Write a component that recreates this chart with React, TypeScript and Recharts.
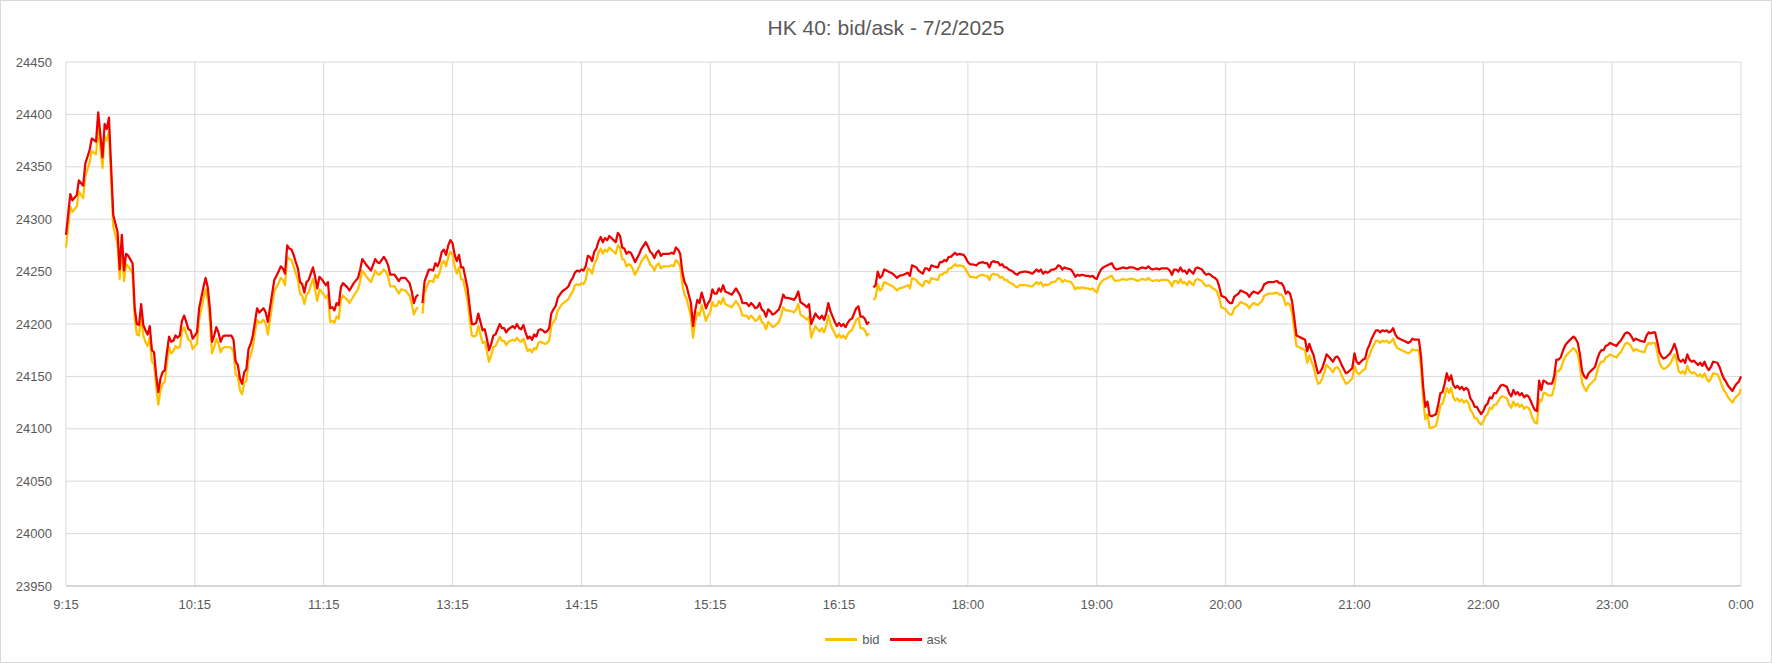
import { LineChart, Line, XAxis, YAxis, CartesianGrid, Legend } from 'recharts'

const FONT = "'Liberation Sans', Arial, sans-serif"
const TEXT = '#595959'
const GRID = '#D9D9D9'
const BID = '#FFC000'
const ASK = '#EE0000'

const title = 'HK 40: bid/ask - 7/2/2025'
const seriesNames = ['bid', 'ask']
const tickTimes = ['9:15', '10:15', '11:15', '13:15', '14:15', '15:15', '16:15', '18:00', '19:00', '20:00', '21:00', '22:00', '23:00', '0:00']
const priceTicks = [23950, 24000, 24050, 24100, 24150, 24200, 24250, 24300, 24350, 24400, 24450]
// no quotes during the breaks -> the line is cut there
const breakTimes = ['12:00', '16:30']

// morning session
const amTimes = [
  '9:15', '9:17', '9:18', '9:20', '9:21', '9:23', '9:24', '9:26', '9:27', '9:29', '9:30', '9:32', '9:33', '9:34', '9:35', '9:37',
  '9:39', '9:40', '9:41', '9:42', '9:43', '9:44',
  '9:46', '9:47', '9:48', '9:49', '9:50', '9:51', '9:52', '9:53', '9:54', '9:55', '9:56', '9:57', '9:58', '9:59',
  '10:00', '10:01', '10:02', '10:03', '10:04', '10:05', '10:06', '10:07', '10:08', '10:09', '10:10', '10:11', '10:12', '10:13', '10:14', '10:15', '10:16', '10:17',
  '10:19', '10:20', '10:21', '10:22', '10:23', '10:24', '10:25', '10:26', '10:27', '10:28', '10:29',
  '10:31', '10:32', '10:33', '10:34', '10:35', '10:36', '10:37', '10:38', '10:39', '10:40', '10:41', '10:42', '10:43', '10:44', '10:45', '10:46', '10:47', '10:48', '10:49',
  '10:51', '10:52', '10:53', '10:54', '10:55', '10:56', '10:57', '10:58', '10:59', '11:00', '11:01', '11:02', '11:03', '11:04', '11:05', '11:06', '11:07', '11:08',
  '11:09', '11:10', '11:11', '11:12', '11:13', '11:14', '11:15', '11:16', '11:17', '11:18', '11:19', '11:20', '11:21', '11:22', '11:23', '11:24',
  '11:26', '11:27', '11:29', '11:31', '11:32', '11:33', '11:34', '11:35', '11:37', '11:39', '11:40', '11:41', '11:43', '11:44', '11:45', '11:46',
  '11:48', '11:50', '11:51', '11:53', '11:55', '11:56', '11:57', '11:58', '11:59',
]
const amBid = [
  24273, 24312, 24307, 24312, 24326, 24320, 24341, 24354, 24365, 24362, 24388, 24349, 24379, 24375, 24384, 24293,
  24276, 24243, 24274, 24241, 24257, 24255,
  24248, 24205, 24190, 24189, 24207, 24189, 24183, 24179, 24187, 24164, 24162, 24140, 24123, 24137,
  24143, 24145, 24163, 24178, 24172, 24174, 24179, 24177, 24178, 24193, 24197, 24191, 24185, 24184, 24176, 24179, 24181, 24204,
  24224, 24233, 24224, 24204, 24172, 24178, 24186, 24181, 24173, 24177, 24178,
  24178, 24177, 24174, 24152, 24150, 24137, 24133, 24144, 24146, 24166, 24170, 24178, 24192, 24204, 24201, 24202, 24204, 24200, 24190,
  24218, 24231, 24235, 24239, 24244, 24242, 24237, 24264, 24262, 24261, 24255, 24248, 24242, 24229, 24227, 24219, 24228, 24230,
  24237, 24243, 24233, 24222, 24233, 24231, 24228, 24225, 24228, 24202, 24203, 24201, 24207, 24205, 24223, 24227,
  24223, 24220, 24227, 24233, 24241, 24251, 24248, 24245, 24240, 24251, 24248, 24247, 24252, 24250, 24245, 24236,
  24236, 24229, 24233, 24232, 24227, 24219, 24209, 24214, 24216,
]
const amAsk = [
  24285, 24324, 24318, 24323, 24337, 24332, 24353, 24366, 24377, 24374, 24402, 24359, 24391, 24386, 24397, 24304,
  24288, 24252, 24285, 24251, 24267, 24265,
  24258, 24215, 24200, 24199, 24219, 24199, 24194, 24190, 24198, 24175, 24173, 24151, 24135, 24148,
  24154, 24156, 24173, 24188, 24183, 24184, 24189, 24187, 24189, 24203, 24208, 24202, 24195, 24194, 24186, 24189, 24192, 24215,
  24235, 24244, 24235, 24215, 24183, 24189, 24197, 24192, 24183, 24188, 24189,
  24189, 24189, 24185, 24164, 24161, 24148, 24143, 24154, 24157, 24176, 24181, 24189, 24202, 24215, 24211, 24213, 24215, 24211, 24202,
  24229, 24242, 24246, 24250, 24255, 24253, 24248, 24275, 24272, 24271, 24266, 24259, 24253, 24240, 24238, 24230, 24240, 24242,
  24248, 24254, 24245, 24234, 24245, 24243, 24240, 24237, 24240, 24215, 24216, 24213, 24220, 24218, 24235, 24239,
  24235, 24232, 24239, 24244, 24252, 24262, 24259, 24256, 24251, 24262, 24259, 24258, 24264, 24261, 24256, 24247,
  24247, 24241, 24244, 24244, 24239, 24231, 24220, 24226, 24228,
]

// afternoon session
const pmTimes = [
  '13:01', '13:02',
  '13:04', '13:05', '13:06', '13:07', '13:08', '13:09', '13:10', '13:11', '13:12', '13:13', '13:14', '13:15', '13:16', '13:17', '13:18', '13:19', '13:20',
  '13:21', '13:22', '13:23', '13:24', '13:25', '13:26', '13:27', '13:28', '13:29', '13:30', '13:31', '13:32', '13:33', '13:34', '13:35', '13:36', '13:37',
  '13:38', '13:39', '13:40', '13:41',
  '13:43', '13:44', '13:45', '13:46', '13:47', '13:48', '13:49', '13:50', '13:51', '13:52', '13:53', '13:54', '13:55', '13:56', '13:57', '13:58', '13:59',
  '14:00', '14:01', '14:02', '14:03', '14:04', '14:05', '14:06',
  '14:08', '14:09', '14:10', '14:11', '14:12', '14:13', '14:14', '14:15', '14:16', '14:17', '14:18', '14:19', '14:20', '14:21', '14:22', '14:23', '14:24',
  '14:25', '14:26', '14:27', '14:28',
  '14:30', '14:31', '14:32', '14:33', '14:34', '14:35', '14:36', '14:37', '14:38', '14:39', '14:40',
  '14:42', '14:43',
  '14:45', '14:46', '14:47', '14:48', '14:49', '14:50', '14:51', '14:52', '14:53', '14:54',
  '14:56', '14:57', '14:58', '14:59', '15:00', '15:01', '15:02', '15:03', '15:04', '15:05', '15:06', '15:07', '15:08', '15:09', '15:10', '15:11', '15:12',
  '15:13', '15:14', '15:15', '15:16', '15:17', '15:18', '15:19', '15:20', '15:21', '15:22', '15:23', '15:24', '15:25', '15:26', '15:27',
  '15:29', '15:30', '15:31', '15:32', '15:33', '15:34', '15:35', '15:36', '15:37', '15:38', '15:39', '15:40', '15:41', '15:42', '15:43', '15:44', '15:45',
  '15:47', '15:48', '15:49', '15:50', '15:51',
  '15:53', '15:54', '15:55', '15:56', '15:57',
  '15:59', '16:00', '16:01', '16:02', '16:03', '16:04', '16:05', '16:06', '16:07', '16:08', '16:09', '16:10', '16:11', '16:12', '16:13', '16:14', '16:15',
  '16:16', '16:17', '16:18', '16:19', '16:20', '16:21', '16:22', '16:23', '16:24', '16:25', '16:26', '16:27', '16:28', '16:29',
]
const pmBid = [
  24210, 24230,
  24241, 24241, 24240, 24247, 24244, 24249, 24258, 24260, 24255, 24264, 24269, 24266, 24255, 24248, 24254, 24243, 24242,
  24232, 24222, 24204, 24189, 24188, 24189, 24198, 24190, 24182, 24183, 24174, 24164, 24170, 24178, 24179, 24183, 24188,
  24184, 24184, 24180, 24183,
  24185, 24184, 24187, 24184, 24183, 24186, 24180, 24174, 24176, 24173, 24177, 24176, 24182, 24183, 24182, 24181, 24182,
  24184, 24198, 24202, 24205, 24213, 24216, 24219,
  24222, 24224, 24228, 24231, 24237, 24238, 24237, 24239, 24238, 24242, 24253, 24252, 24248, 24257, 24261, 24268, 24272,
  24267, 24271, 24269, 24273,
  24269, 24267, 24275, 24273, 24262, 24261, 24255, 24257, 24256, 24252, 24247,
  24255, 24260,
  24266, 24262, 24257, 24255, 24251, 24256, 24258, 24253, 24255, 24255,
  24255, 24256, 24255, 24261, 24259, 24255, 24238, 24228, 24224, 24216, 24207, 24187, 24202, 24211, 24208, 24218, 24211,
  24203, 24208, 24211, 24221, 24217, 24217, 24222, 24219, 24225, 24219, 24218, 24217, 24216, 24219, 24222,
  24215, 24208, 24208, 24208, 24205, 24208, 24206, 24203, 24204, 24208, 24202, 24200, 24195, 24202, 24200, 24197, 24198,
  24202, 24208, 24216, 24213, 24213,
  24212, 24211, 24214, 24219, 24209,
  24206, 24204, 24207, 24187, 24193, 24198, 24195, 24193, 24196, 24192, 24198, 24208, 24200, 24195, 24191, 24187, 24190,
  24187, 24189, 24186, 24190, 24193, 24194, 24199, 24204, 24206, 24196, 24196, 24194, 24189, 24191,
]
const pmAsk = [
  24220, 24241,
  24252, 24252, 24251, 24258, 24255, 24260, 24269, 24271, 24266, 24275, 24280, 24277, 24266, 24260, 24266, 24254, 24254,
  24244, 24234, 24216, 24200, 24200, 24201, 24210, 24202, 24194, 24195, 24186, 24175, 24181, 24189, 24190, 24195, 24200,
  24196, 24196, 24192, 24195,
  24198, 24196, 24200, 24196, 24195, 24199, 24192, 24186, 24188, 24185, 24190, 24188, 24194, 24195, 24194, 24192, 24193,
  24196, 24210, 24214, 24217, 24225, 24228, 24231,
  24234, 24236, 24241, 24244, 24249, 24251, 24250, 24252, 24251, 24255, 24265, 24264, 24260, 24269, 24272, 24279, 24283,
  24278, 24282, 24280, 24284,
  24280, 24278, 24287, 24284, 24273, 24272, 24267, 24269, 24268, 24264, 24259,
  24267, 24272,
  24278, 24274, 24269, 24267, 24263, 24268, 24270, 24265, 24267, 24267,
  24267, 24268, 24267, 24273, 24271, 24267, 24250, 24240, 24236, 24228, 24220, 24198, 24213, 24223, 24220, 24230, 24223,
  24215, 24220, 24223, 24233, 24229, 24229, 24234, 24231, 24237, 24231, 24230, 24229, 24228, 24231, 24234,
  24227, 24220, 24220, 24220, 24217, 24220, 24218, 24215, 24216, 24220, 24214, 24212, 24207, 24214, 24212, 24209, 24210,
  24214, 24220, 24228, 24225, 24225,
  24224, 24223, 24226, 24231, 24221,
  24218, 24216, 24219, 24200, 24205, 24210, 24207, 24205, 24208, 24204, 24210, 24220, 24212, 24207, 24202, 24198, 24201,
  24198, 24200, 24197, 24201, 24204, 24205, 24210, 24215, 24217, 24207, 24207, 24205, 24200, 24202,
]

// night session
const nightTimes = [
  '17:16', '17:17', '17:18', '17:19', '17:20', '17:21', '17:22', '17:23', '17:25', '17:27', '17:28', '17:30', '17:31', '17:32', '17:33', '17:34',
  '17:36', '17:37', '17:39', '17:40', '17:41', '17:42', '17:43', '17:44', '17:46', '17:47', '17:48', '17:49', '17:50', '17:51', '17:52', '17:53',
  '17:54', '17:55', '17:56', '17:58', '17:59',
  '18:00', '18:01', '18:02', '18:04', '18:05', '18:07', '18:08', '18:09', '18:10', '18:11', '18:12', '18:13', '18:14', '18:15', '18:16', '18:17',
  '18:18', '18:19', '18:21', '18:22', '18:23', '18:24', '18:26', '18:27', '18:29', '18:30', '18:31', '18:32', '18:33', '18:34', '18:35', '18:36',
  '18:37', '18:38', '18:39', '18:40', '18:41', '18:42', '18:43', '18:44', '18:45', '18:46', '18:48', '18:49', '18:50', '18:51', '18:52', '18:53',
  '18:55', '18:56', '18:57', '18:58', '18:59',
  '19:00', '19:01', '19:02', '19:03', '19:04', '19:05', '19:06', '19:07', '19:08', '19:09', '19:11', '19:12', '19:14', '19:15', '19:17', '19:18',
  '19:19', '19:20', '19:21', '19:23', '19:24', '19:25', '19:26', '19:28', '19:29', '19:30', '19:31', '19:33', '19:34', '19:35', '19:36', '19:37',
  '19:38', '19:39', '19:40', '19:41', '19:42', '19:43', '19:44', '19:45', '19:46', '19:47', '19:49', '19:50', '19:51', '19:52', '19:53', '19:54',
  '19:55', '19:56', '19:57', '19:58',
  '20:00', '20:01', '20:02', '20:03', '20:04', '20:06', '20:07', '20:08', '20:10', '20:11', '20:12', '20:13', '20:15', '20:16', '20:17', '20:18',
  '20:19', '20:20', '20:22', '20:24', '20:25', '20:26', '20:27', '20:28', '20:29', '20:30', '20:31', '20:32', '20:33', '20:34', '20:35', '20:37',
  '20:38', '20:39', '20:40', '20:41', '20:42', '20:43', '20:44', '20:45', '20:46', '20:47', '20:48', '20:50', '20:51', '20:52', '20:53', '20:54',
  '20:55', '20:56', '20:57', '20:59',
  '21:00', '21:01', '21:02', '21:03', '21:04', '21:05', '21:06', '21:07', '21:08', '21:10', '21:11', '21:12', '21:13', '21:14', '21:15', '21:16',
  '21:17', '21:18', '21:19', '21:20', '21:21', '21:22', '21:23', '21:24', '21:25', '21:26', '21:27', '21:28', '21:30', '21:31', '21:32', '21:33',
  '21:34', '21:35', '21:36', '21:37', '21:38', '21:39', '21:40', '21:41', '21:42', '21:43', '21:44', '21:45', '21:46', '21:47', '21:48', '21:49',
  '21:50', '21:51', '21:52', '21:53', '21:54', '21:55', '21:56', '21:57', '21:58', '21:59',
  '22:00', '22:01', '22:02', '22:03', '22:04', '22:05', '22:06', '22:08', '22:09', '22:11', '22:12', '22:13', '22:14', '22:15', '22:16', '22:17',
  '22:18', '22:19', '22:20', '22:21', '22:22', '22:23', '22:24', '22:25', '22:26', '22:27', '22:28', '22:29', '22:30', '22:32', '22:33', '22:34',
  '22:35', '22:36', '22:37', '22:38', '22:39', '22:41', '22:42', '22:43', '22:44', '22:45', '22:46', '22:47', '22:48', '22:49', '22:50', '22:52',
  '22:53', '22:54', '22:55', '22:56', '22:57', '22:58', '22:59',
  '23:00', '23:01', '23:02', '23:03', '23:04', '23:06', '23:07', '23:08', '23:09', '23:10', '23:11', '23:12', '23:13', '23:15', '23:16', '23:17',
  '23:18', '23:19', '23:20', '23:21', '23:22', '23:23', '23:24', '23:25', '23:26', '23:27', '23:28', '23:29', '23:30', '23:31', '23:32', '23:33',
  '23:34', '23:35', '23:36', '23:37', '23:38', '23:39', '23:40', '23:41', '23:42', '23:43', '23:44', '23:45', '23:46', '23:47', '23:49', '23:50',
  '23:51', '23:52', '23:53', '23:54', '23:56', '23:57', '23:58', '23:59', '0:00',
]
const nightBid = [
  24223, 24225, 24238, 24232, 24234, 24240, 24239, 24238, 24236, 24232, 24234, 24235, 24236, 24237, 24234, 24244,
  24242, 24239, 24236, 24241, 24241, 24239, 24244, 24243, 24242, 24247, 24247, 24249, 24249, 24253, 24253, 24255,
  24257, 24255, 24256, 24255, 24252,
  24248, 24245, 24245, 24244, 24246, 24247, 24246, 24246, 24242, 24247, 24248, 24247, 24247, 24244, 24245, 24242,
  24242, 24240, 24238, 24236, 24235, 24237, 24237, 24237, 24236, 24236, 24238, 24240, 24238, 24240, 24236, 24238,
  24237, 24238, 24240, 24240, 24241, 24244, 24243, 24240, 24242, 24241, 24240, 24237, 24233, 24235, 24234, 24235,
  24234, 24234, 24233, 24234, 24232,
  24230, 24236, 24240, 24242, 24243, 24244, 24245, 24246, 24242, 24241, 24242, 24243, 24242, 24243, 24243, 24242,
  24241, 24242, 24243, 24242, 24244, 24242, 24241, 24242, 24241, 24242, 24242, 24242, 24240, 24236, 24241, 24241,
  24239, 24243, 24239, 24240, 24237, 24241, 24239, 24237, 24242, 24243, 24241, 24238, 24236, 24237, 24236, 24234,
  24233, 24231, 24225, 24216,
  24214, 24211, 24209, 24209, 24215, 24218, 24221, 24220, 24218, 24215, 24218, 24220, 24218, 24220, 24222, 24227,
  24228, 24229, 24229, 24230, 24228, 24228, 24225, 24218, 24220, 24218, 24210, 24194, 24179, 24178, 24177, 24175,
  24163, 24170, 24164, 24159, 24150, 24143, 24144, 24148, 24154, 24161, 24159, 24154, 24158, 24159, 24156, 24151,
  24147, 24143, 24144, 24148,
  24160, 24154, 24152, 24154, 24156, 24157, 24166, 24170, 24176, 24184, 24184, 24182, 24184, 24183, 24184, 24182,
  24183, 24186, 24180, 24177, 24176, 24175, 24174, 24173, 24172, 24173, 24176, 24175, 24175, 24158, 24128, 24109,
  24114, 24101, 24101, 24102, 24103, 24112, 24122, 24124, 24131, 24139, 24134, 24139, 24130, 24127, 24129, 24126,
  24128, 24125, 24127, 24125, 24118, 24115, 24110, 24110, 24106, 24104,
  24107, 24112, 24114, 24120, 24119, 24123, 24123, 24130, 24131, 24129, 24123, 24120, 24126, 24122, 24124, 24121,
  24123, 24119, 24121, 24120, 24116, 24110, 24106, 24105, 24128, 24126, 24134, 24134, 24132, 24132, 24139, 24155,
  24155, 24157, 24163, 24168, 24171, 24175, 24177, 24175, 24171, 24160, 24144, 24139, 24136, 24141, 24143, 24147,
  24155, 24161, 24164, 24164, 24168, 24169, 24171,
  24170, 24169, 24168, 24171, 24173, 24181, 24182, 24181, 24178, 24174, 24176, 24175, 24174, 24173, 24179, 24182,
  24181, 24182, 24182, 24173, 24163, 24159, 24157, 24158, 24160, 24162, 24166, 24171, 24165, 24155, 24153, 24155,
  24152, 24160, 24155, 24153, 24154, 24152, 24150, 24152, 24149, 24153, 24148, 24145, 24148, 24153, 24152, 24148,
  24142, 24137, 24134, 24130, 24125, 24129, 24131, 24133, 24138,
]
const nightAsk = [
  24235, 24237, 24250, 24244, 24246, 24252, 24251, 24250, 24248, 24244, 24246, 24247, 24248, 24249, 24246, 24256,
  24254, 24251, 24248, 24253, 24253, 24251, 24256, 24255, 24254, 24259, 24259, 24261, 24260, 24264, 24264, 24266,
  24268, 24266, 24267, 24266, 24263,
  24259, 24257, 24257, 24256, 24258, 24259, 24258, 24258, 24254, 24259, 24260, 24259, 24259, 24256, 24257, 24254,
  24254, 24252, 24250, 24248, 24247, 24249, 24250, 24250, 24249, 24248, 24250, 24252, 24250, 24252, 24248, 24250,
  24249, 24250, 24252, 24252, 24253, 24256, 24255, 24252, 24254, 24253, 24252, 24249, 24245, 24247, 24246, 24247,
  24246, 24246, 24245, 24246, 24244,
  24243, 24248, 24252, 24254, 24255, 24256, 24257, 24258, 24254, 24252, 24253, 24254, 24253, 24254, 24254, 24253,
  24252, 24253, 24254, 24253, 24255, 24253, 24252, 24253, 24252, 24253, 24253, 24253, 24251, 24247, 24252, 24252,
  24250, 24254, 24250, 24251, 24248, 24252, 24250, 24248, 24253, 24254, 24252, 24249, 24247, 24248, 24247, 24245,
  24244, 24242, 24236, 24227,
  24225, 24222, 24220, 24220, 24226, 24229, 24232, 24231, 24229, 24226, 24229, 24231, 24229, 24231, 24233, 24238,
  24239, 24240, 24240, 24241, 24239, 24239, 24236, 24229, 24231, 24229, 24221, 24205, 24189, 24188, 24187, 24185,
  24174, 24181, 24175, 24170, 24161, 24153, 24154, 24158, 24164, 24171, 24169, 24164, 24168, 24169, 24166, 24161,
  24157, 24153, 24154, 24158,
  24172, 24164, 24162, 24164, 24166, 24167, 24176, 24180, 24186, 24194, 24194, 24192, 24194, 24193, 24194, 24192,
  24193, 24196, 24190, 24187, 24186, 24185, 24184, 24183, 24182, 24183, 24186, 24185, 24185, 24169, 24140, 24121,
  24126, 24113, 24112, 24113, 24114, 24123, 24134, 24135, 24143, 24153, 24146, 24151, 24142, 24139, 24141, 24138,
  24140, 24137, 24139, 24137, 24129, 24126, 24121, 24121, 24117, 24114,
  24117, 24122, 24124, 24130, 24129, 24134, 24134, 24141, 24142, 24140, 24134, 24131, 24137, 24133, 24135, 24132,
  24134, 24130, 24132, 24131, 24127, 24122, 24118, 24117, 24146, 24137, 24146, 24145, 24143, 24143, 24150, 24166,
  24166, 24168, 24174, 24179, 24182, 24186, 24188, 24186, 24182, 24171, 24155, 24150, 24148, 24153, 24155, 24159,
  24166, 24172, 24175, 24175, 24179, 24180, 24182,
  24181, 24180, 24179, 24182, 24184, 24191, 24192, 24191, 24188, 24184, 24186, 24185, 24184, 24183, 24189, 24192,
  24191, 24192, 24192, 24183, 24173, 24169, 24167, 24168, 24170, 24172, 24176, 24181, 24175, 24166, 24164, 24166,
  24163, 24171, 24166, 24164, 24165, 24163, 24161, 24163, 24160, 24164, 24159, 24156, 24159, 24164, 24163, 24159,
  24153, 24148, 24145, 24141, 24136, 24140, 24143, 24145, 24150,
]

// trading minutes since 9:15 with the lunch and evening breaks squeezed out
function axisMinute(time: string) {
  const [h, m] = time.split(':').map(Number)
  const clock = (h === 0 ? 24 : h) * 60 + m
  if (clock <= 12 * 60) return clock - (9 * 60 + 15)
  if (clock <= 16 * 60 + 30) return 165 + clock - 13 * 60
  return 375 + clock - (17 * 60 + 15)
}

type Row = { t: number; bid: number | null; ask: number | null }

const sessions: [string[], number[], number[]][] = [
  [amTimes, amBid, amAsk],
  [pmTimes, pmBid, pmAsk],
  [nightTimes, nightBid, nightAsk],
]

const data: Row[] = []
sessions.forEach(([times, bid, ask], s) => {
  times.forEach((time, i) => {
    data.push({ t: axisMinute(time), bid: bid[i] ?? null, ask: ask[i] ?? null })
  })
  if (breakTimes[s]) data.push({ t: axisMinute(breakTimes[s]), bid: null, ask: null })
})

const xTicks = tickTimes.map(axisMinute)

function LegendRow({ payload }: any) {
  const items = [...(payload || [])].sort(
    (a: any, b: any) => seriesNames.indexOf(a.value) - seriesNames.indexOf(b.value)
  )
  return (
    <div style={{ display: 'flex', justifyContent: 'center', alignItems: 'center', height: 20, fontFamily: FONT, fontSize: 13, color: TEXT }}>
      {items.map((p: any) => (
        <div key={p.value} style={{ display: 'flex', alignItems: 'center', margin: '0 5px' }}>
          <span style={{ display: 'inline-block', width: 32, height: 3, background: p.color, marginRight: 5 }} />
          <span>{p.value}</span>
        </div>
      ))}
    </div>
  )
}

export default function App() {
  return (
    <div style={{ position: 'absolute', left: 0, top: 0, width: 1772, height: 663, background: '#fff', fontFamily: FONT }}>
      <div
        style={{
          position: 'absolute', left: 0, top: 17, width: 1772, textAlign: 'center',
          fontSize: 21, lineHeight: '21px', color: TEXT,
        }}
      >
        {title}
      </div>
      <LineChart width={1772} height={663} data={data} margin={{ top: 62, right: 31, left: 0, bottom: 14 }}>
        <CartesianGrid stroke={GRID} strokeWidth={1} />
        <XAxis
          dataKey='t'
          type='number'
          domain={[0, 780]}
          ticks={xTicks}
          interval={0}
          height={43}
          tickLine={false}
          tickMargin={8}
          axisLine={{ stroke: '#BFBFBF' }}
          tick={{ fill: TEXT, fontSize: 13, fontFamily: FONT }}
          tickFormatter={(t: number) => tickTimes[xTicks.indexOf(t)] ?? ''}
        />
        <YAxis
          type='number'
          domain={[23950, 24450]}
          ticks={priceTicks}
          interval={0}
          width={66}
          axisLine={false}
          tickLine={false}
          tickMargin={8}
          tick={{ fill: TEXT, fontSize: 13, fontFamily: FONT }}
        />
        <Legend verticalAlign='bottom' content={LegendRow} wrapperStyle={{ left: 0, width: 1772 }} />
        <Line
          type='linear'
          dataKey='bid'
          name='bid'
          stroke={BID}
          strokeWidth={2.25}
          strokeLinejoin='round'
          dot={false}
          activeDot={false}
          connectNulls={false}
          isAnimationActive={false}
        />
        <Line
          type='linear'
          dataKey='ask'
          name='ask'
          stroke={ASK}
          strokeWidth={2.25}
          strokeLinejoin='round'
          dot={false}
          activeDot={false}
          connectNulls={false}
          isAnimationActive={false}
        />
      </LineChart>
      <div style={{ position: 'absolute', inset: 0, border: '1px solid #D9D9D9', pointerEvents: 'none' }} />
    </div>
  )
}
